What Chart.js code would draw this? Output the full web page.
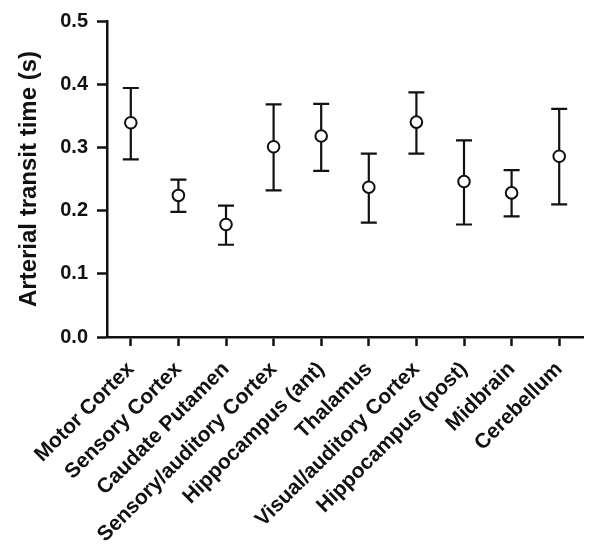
<!DOCTYPE html>
<html>
<head>
<meta charset="utf-8">
<script src="https://cdn.jsdelivr.net/npm/chart.js@4/dist/chart.umd.min.js"></script>
<style>
  html, body { margin: 0; padding: 0; background: #fff; }
  #wrap { width: 600px; height: 551px; }
</style>
</head>
<body>
<div id="wrap"><canvas id="chart" width="600" height="551"></canvas></div>
<script>
const regions = ['Motor Cortex', 'Sensory Cortex', 'Caudate Putamen', 'Sensory/auditory Cortex',
  'Hippocampus (ant)', 'Thalamus', 'Visual/auditory Cortex', 'Hippocampus (post)', 'Midbrain', 'Cerebellum']
const meanTime = [0.339, 0.224, 0.178, 0.301, 0.318, 0.237, 0.340, 0.246, 0.228, 0.286]
const upperTime = [0.394, 0.249, 0.208, 0.368, 0.369, 0.290, 0.387, 0.311, 0.264, 0.361]
const lowerTime = [0.281, 0.198, 0.146, 0.232, 0.263, 0.181, 0.290, 0.178, 0.191, 0.210]
const yTicks = [0.0, 0.1, 0.2, 0.3, 0.4, 0.5]

const ink = '#111'
const font = 'Liberation Sans, Arial, sans-serif'

// error bars drawn under the open circles
const errorBars = {
  id: 'errorBars',
  beforeDatasetsDraw(chart) {
    let { ctx, scales: { x, y } } = chart
    ctx.save()
    ctx.strokeStyle = ink
    ctx.lineWidth = 2.2
    regions.forEach((r, i) => {
      let px = x.getPixelForValue(i)
      let top = y.getPixelForValue(upperTime[i])
      let bot = y.getPixelForValue(lowerTime[i])
      ctx.beginPath()
      ctx.moveTo(px, top); ctx.lineTo(px, bot)
      ctx.moveTo(px - 8, top); ctx.lineTo(px + 8, top)
      ctx.moveTo(px - 8, bot); ctx.lineTo(px + 8, bot)
      ctx.stroke()
    })
    ctx.restore()
  }
}

let chart = new Chart(document.getElementById('chart'), {
  type: 'line',
  data: {
    labels: regions,
    datasets: [{
      data: meanTime,
      showLine: false,
      pointStyle: 'circle',
      pointRadius: 5.8,
      pointBorderWidth: 2,
      pointBorderColor: ink,
      pointBackgroundColor: '#fff'
    }]
  },
  options: {
    responsive: false,
    animation: false,
    layout: { padding: { top: 20, right: 17, left: 0, bottom: 0 } },
    plugins: { legend: { display: false }, tooltip: { enabled: false } },
    scales: {
      x: {
        offset: true,
        grid: { offset: false, drawOnChartArea: false, tickLength: 9, tickColor: ink, tickWidth: 2.5 },
        border: { display: true, color: ink, width: 2.5 },
        ticks: {
          autoSkip: false, minRotation: 45, maxRotation: 45, padding: 11,
          color: ink, font: { family: font, size: 21, weight: 'bold' }
        },
        afterFit(scale) { scale.height = 214 }
      },
      y: {
        min: 0, max: 0.5,
        afterBuildTicks(scale) { scale.ticks = yTicks.map(v => ({ value: v })) },
        grid: { drawOnChartArea: false, tickLength: 10, tickColor: ink, tickWidth: 2.5 },
        border: { display: true, color: ink, width: 2.5 },
        ticks: {
          padding: 9, color: ink,
          font: { family: font, size: 20, weight: 'bold' },
          callback: v => v.toFixed(1)
        },
        title: {
          display: true, text: 'Arterial transit time (s)', color: ink,
          font: { family: font, size: 24, weight: 'bold' },
          padding: { top: 15, bottom: 0 }
        },
        afterFit(scale) { scale.width = 107 }
      }
    }
  },
  plugins: [errorBars]
})
</script>
</body>
</html>
